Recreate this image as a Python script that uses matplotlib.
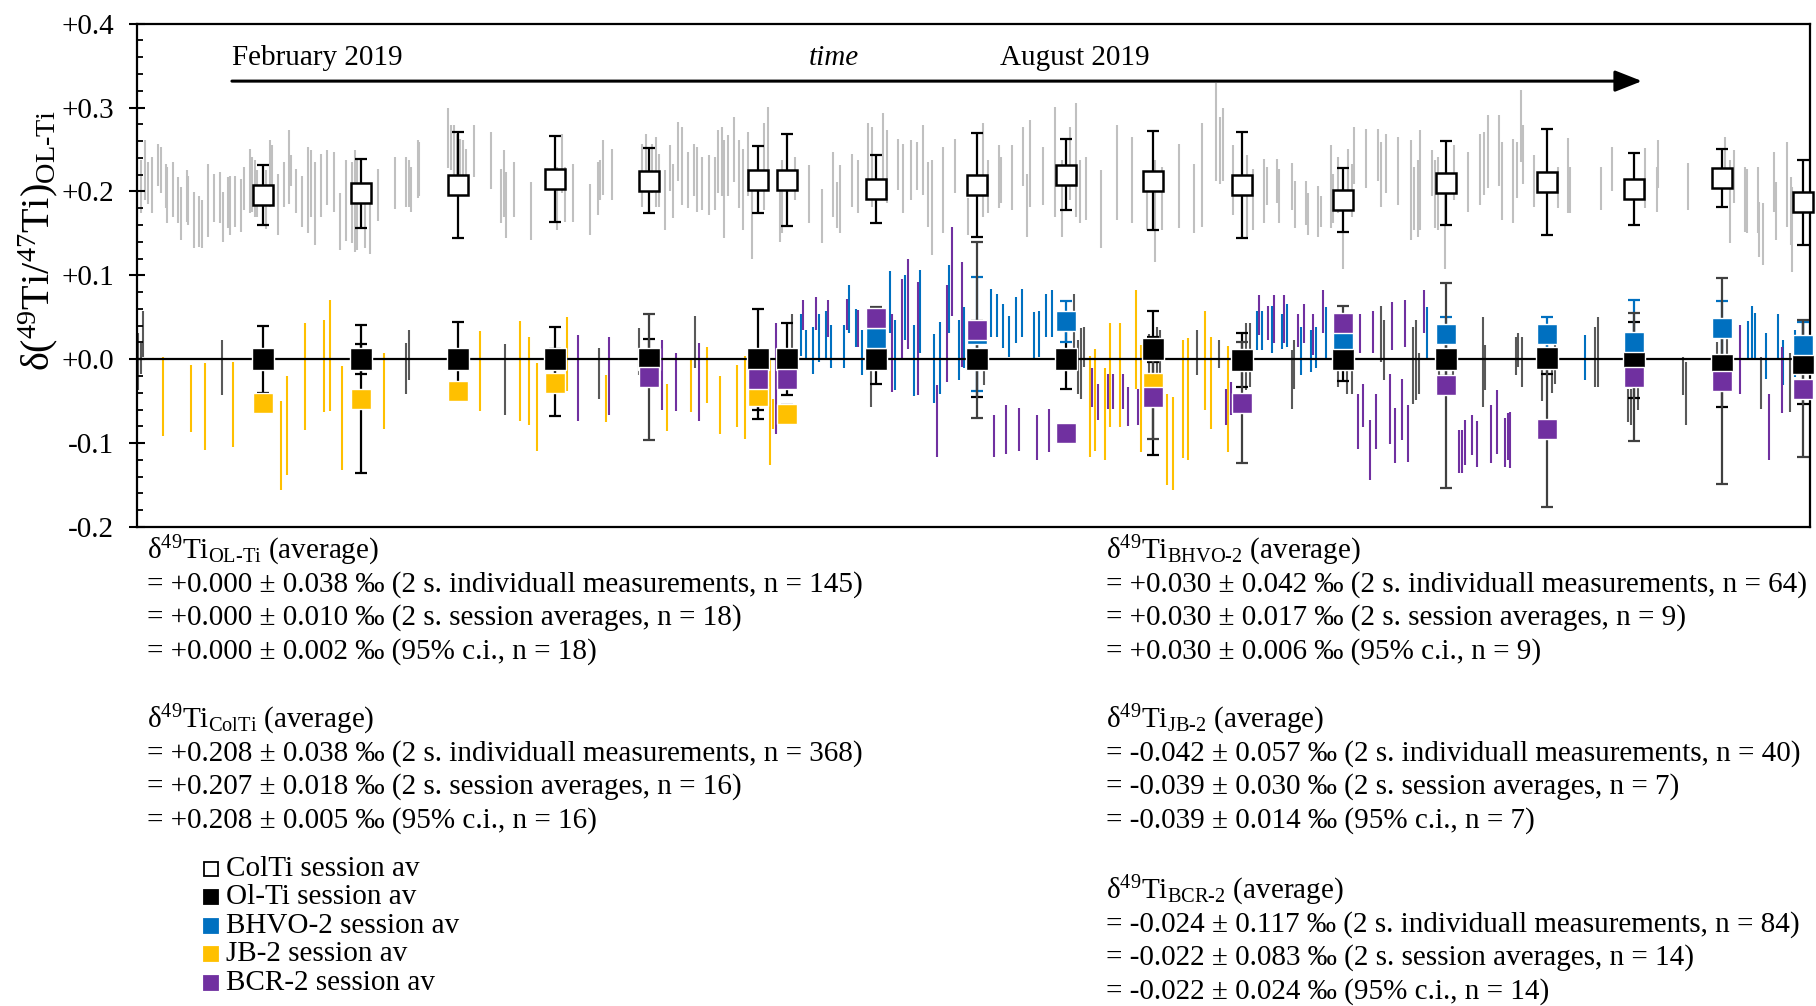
import matplotlib.pyplot as plt
from matplotlib.lines import Line2D

plt.rcParams['font.family'] = ['Liberation Serif', 'DejaVu Serif']
plt.rcParams['mathtext.fontset'] = 'custom'
plt.rcParams['mathtext.rm'] = 'Liberation Serif'
plt.rcParams['mathtext.it'] = 'Liberation Serif:italic'
plt.rcParams['mathtext.bf'] = 'Liberation Serif:bold'

# run position (time axis, arbitrary units) of each measurement session
session_x = [126, 224, 321, 418, 512, 621, 650, 739, 840, 929, 1016, 1105, 1206, 1309, 1410, 1497, 1585, 1666]
colti_avg = [.196, .198, .208, .215, .213, .214, .214, .203, .208, .220, .213, .208, .190, .210, .211, .203, .216, .187]
colti_err = [.036, .041, .063, .051, .039, .040, .055, .041, .062, .042, .059, .063, .038, .050, .063, .043, .035, .051]
olti_avg = [0, 0, 0, 0, 0, 0, 0, 0, 0, 0, .012, -.001, 0, 0, .002, -.001, -.007, -.004]
olti_err = [.040, .018, .044, .039, .024, .060, .043, .030, .045, .035, .015, .032, .026, .020, .020, .045, .050, .049]

bhvo_x = [739, 840, 929, 1206, 1309, 1410, 1497, 1585, 1666]
bhvo_avg = [.025, .030, .045, .024, .030, .030, .020, .037, .017]
bhvo_err = [.010, .068, .025, .020, .020, .020, .051, .033, .027]

jb_x = [126, 224, 321, 418, 621, 650, 1016]
jb_avg = [-.052, -.047, -.038, -.028, -.044, -.065, -.028]
jb_err = [.011, .088, .010, .040, .027, .010, .086]

bcr_x = [512, 621, 650, 739, 840, 929, 1016, 1105, 1206, 1309, 1410, 1497, 1585, 1666]
bcr_avg = [-.021, -.024, -.023, .049, .035, -.088, -.045, -.052, .043, -.031, -.083, -.021, -.026, -.035]
bcr_err = [.075, .010, .010, .013, .105, .010, .050, .072, .021, .122, .093, .076, .123, .082]

# individual measurements: (run, lower 2s bound, upper 2s bound)
colti_runs = [
    (0, .170, .229), (4, .174, .237), (8, .190, .261), (11, .185, .235), (15, .174, .241), (21, .206, .257),
    (24, .198, .253), (29, .180, .233), (30, .162, .229), (36, .169, .235), (41, .162, .217), (44, .142, .205),
    (50, .164, .225), (51, .160, .219), (57, .132, .199), (62, .134, .194), (65, .132, .190), (71, .146, .233),
    (77, .164, .221), (83, .162, .223), (86, .140, .199), (91, .156, .217), (93, .148, .219), (98, .158, .219),
    (104, .152, .215), (107, .178, .229), (113, .174, .251), (115, .176, .241), (118, .170, .237), (120, .170, .225),
    (129, .155, .225), (133, .182, .261), (135, .205, .255), (141, .148, .221), (147, .182, .235), (152, .185, .273),
    (154, .207, .243), (159, .174, .227), (165, .158, .219), (171, .151, .253), (174, .170, .249), (178, .136, .235),
    (184, .170, .245), (190, .184, .249), (197, .176, .247), (203, .130, .198), (209, .141, .237), (215, .139, .235),
    (218, .128, .249), (220, .130, .237), (228, .132, .193), (233, .126, .205), (241, .165, .227), (258, .179, .241),
    (269, .181, .241), (272, .181, .237), (274, .175, .229), (281, .192, .261),
    (282, .194, .259), (311, .228, .299), (314, .225, .279), (317, .211, .279), (320, .205, .269), (323, .215, .263),
    (326, .209, .261), (329, .201, .251), (337, .217, .279), (354, .203, .271), (364, .162, .227), (367, .170, .249),
    (369, .144, .223), (377, .170, .235), (394, .142, .211), (420, .154, .229), (425, .198, .269), (428, .164, .229),
    (436, .164, .233), (453, .148, .209), (461, .172, .235), (463, .190, .237), (466, .196, .261), (475, .190, .251),
    (505, .182, .257), (509, .203, .269), (515, .198, .257), (519, .182, .265), (522, .182, .245), (528, .154, .225),
    (533, .200, .255), (536, .168, .233), (541, .213, .283), (545, .184, .277), (551, .180, .247), (557, .194, .257),
    (560, .176, .253), (565, .178, .241), (572, .172, .244), (578, .178, .241), (581, .198, .273), (585, .194, .277),
    (587, .144, .261), (591, .194, .267), (597, .211, .289), (602, .180, .261), (606, .154, .251), (611, .194, .271),
    (615, .120, .211), (627, .178, .281), (631, .202, .301), (643, .140, .205), (645, .150, .237), (658, .190, .241),
    (672, .162, .231), (685, .138, .203), (696, .170, .247), (700, .156, .211), (703, .150, .231), (715, .182, .245),
    (721, .174, .237), (731, .202, .281), (735, .182, .277), (746, .198, .293), (750, .186, .273), (761, .202, .263),
    (766, .174, .257), (774, .190, .261), (780, .202, .259), (786, .196, .279), (791, .158, .235), (795, .124, .237),
    (806, .150, .253), (818, .198, .263), (831, .148, .192),
    (846, .170, .281), (851, .174, .237), (862, .180, .255), (864, .186, .241), (875, .178, .255), (886, .206, .277),
    (890, .146, .221), (893, .182, .285), (906, .184, .253), (918, .170, .301), (925, .146, .237), (933, .190, .277),
    (939, .170, .305), (943, .162, .237), (949, .166, .241), (964, .132, .225), (980, .166, .279), (995, .162, .265),
    (1010, .154, .213), (1018, .116, .237), (1025, .154, .229), (1042, .156, .257), (1057, .150, .233), (1065, .158, .281),
    (1079, .213, .329), (1083, .209, .289), (1086, .213, .299), (1096, .172, .255), (1110, .146, .243), (1116, .154, .227),
    (1127, .162, .239), (1130, .184, .229), (1140, .186, .239), (1142, .162, .227), (1155, .178, .234), (1158, .156, .213),
    (1169, .160, .213), (1171, .148, .198), (1181, .146, .207), (1184, .158, .194), (1194, .156, .255), (1196, .162, .221),
    (1201, .174, .241), (1206, .108, .190), (1211, .186, .251), (1215, .170, .233), (1217, .209, .277), (1229, .204, .275),
    (1241, .213, .275), (1244, .182, .259), (1249, .198, .269), (1261, .184, .265), (1274, .142, .261), (1277, .154, .229),
    (1281, .146, .237), (1283, .154, .273), (1295, .194, .249), (1298, .156, .237), (1301, .154, .241), (1308, .108, .198),
    (1317, .190, .255), (1331, .176, .247), (1343, .184, .269), (1347, .196, .271), (1351, .204, .291), (1362, .206, .291),
    (1365, .166, .259), (1376, .162, .263), (1380, .192, .259), (1384, .235, .321), (1386, .209, .279), (1397, .182, .243),
    (1421, .180, .229), (1431, .174, .264), (1433, .174, .229), (1464, .178, .229), (1475, .200, .253), (1508, .180, .252),
    (1520, .176, .229), (1521, .204, .261), (1551, .178, .234), (1588, .206, .265), (1593, .138, .237), (1597, .186, .249),
    (1608, .152, .229), (1610, .150, .227), (1621, .150, .229), (1622, .122, .188), (1626, .112, .186), (1637, .176, .247),
    (1639, .142, .211), (1650, .158, .259), (1654, .136, .217), (1655, .104, .205),
]

olti_runs = [
    (1, -.037, .031), (4, -.017, .019), (6, .003, .058), (85, -.043, .023), (269, -.041, .019), (272, -.025, .035),
    (368, -.067, .018), (462, -.047, .013), (502, -.019, .037), (558, -.011, .052), (655, -.001, .054), (734, -.057, -.001),
    (847, -.031, -.005), (937, .011, .078), (941, -.041, .023), (944, -.047, .037), (947, -.009, .039), (1012, -.020, .030),
    (1020, -.021, .039), (1023, -.021, .035), (1060, -.019, .035), (1082, -.011, .023), (1109, -.037, .043), (1113, -.033, .043),
    (1155, -.059, .011), (1157, -.035, .023), (1201, -.033, .011), (1210, -.041, .011), (1215, -.041, .007), (1244, -.003, .064),
    (1247, -.025, .047), (1276, -.053, .039), (1279, -.049, .047), (1282, -.041, .007), (1302, -.019, .011), (1316, -.019, .011),
    (1346, -.057, .050), (1348, -.037, .017), (1379, -.019, .027), (1381, -.009, .031), (1385, -.033, .027), (1405, -.050, .010),
    (1415, -.040, .010), (1418, -.030, .020), (1458, -.033, .039), (1461, -.033, .050), (1491, -.075, -.035), (1494, -.078, -.035),
    (1501, -.060, .020), (1546, -.043, .003), (1549, -.078, -.003), (1580, -.020, .020), (1590, -.025, .025), (1624, -.059, .003),
    (1653, -.063, .007),
]

bhvo_runs = [
    (664, .004, .054), (669, -.001, .035), (676, -.018, .039), (682, -.003, .054), (689, .001, .058), (694, -.011, .041),
    (707, -.011, .041), (712, .031, .089), (719, .015, .060), (725, -.019, .035), (753, .031, .105), (758, -.037, .047),
    (768, .023, .100), (777, -.044, .041), (783, .007, .106), (797, -.052, .030), (803, -.042, .044), (812, .031, .112),
    (822, -.025, .047), (827, -.011, .062), (854, .027, .084), (860, .027, .078), (866, .013, .066), (872, .003, .051),
    (879, .019, .074), (885, .027, .084), (897, .002, .056), (902, .003, .058), (909, .027, .078), (915, .027, .082),
    (1120, .011, .058), (1125, .011, .058), (1135, .007, .063), (1145, .012, .054), (1150, .015, .066), (1164, -.019, .039),
    (1174, -.015, .035), (1179, -.011, .038), (1189, -.001, .062), (1290, -.001, .062), (1448, -.025, .029), (1611, -.001, .045),
    (1615, -.001, .063), (1618, -.001, .055), (1629, -.023, .031), (1641, -.001, .054), (1646, -.031, .023), (1658, -.021, .035),
]

jb_runs = [
    (26, -.091, .003), (54, -.087, -.007), (68, -.108, -.005), (96, -.105, -.003), (144, -.156, -.050), (150, -.138, -.020),
    (168, -.084, .043), (187, -.063, .047), (193, -.062, .071), (205, -.132, -.008), (247, -.083, .007), (343, -.062, .034),
    (383, -.074, .045), (392, -.078, .027), (400, -.109, -.005), (430, -.038, .050), (469, -.075, -.019), (530, -.085, -.029),
    (554, -.063, .001), (570, -.052, .015), (583, -.089, -.020), (600, -.081, -.007), (608, -.095, .004), (633, -.126, -.001),
    (636, -.083, -.047), (953, -.117, .004), (958, -.109, .012), (968, -.120, -.011), (973, -.081, .043), (983, -.081, .043),
    (999, -.035, .082), (1004, -.111, .017), (1030, -.150, -.041), (1036, -.156, -.045), (1046, -.118, .023), (1051, -.120, .025),
    (1068, -.060, .058), (1074, -.083, .027), (1091, -.111, .016),
]

bcr_runs = [
    (441, -.074, .029), (472, -.066, .027), (525, -.061, .023), (539, -.062, .007), (562, -.074, .019), (639, -.089, .043),
    (666, .035, .071), (679, .035, .074), (691, .027, .071), (710, .035, .072), (721, .014, .059), (755, -.039, .054),
    (765, -.001, .096), (771, .012, .119), (781, -.043, .092), (800, -.117, -.031), (810, -.027, .088), (815, .052, .158),
    (825, -.009, .116), (857, -.116, -.066), (869, -.113, -.055), (882, -.109, -.058), (900, -.120, -.066), (912, -.111, -.059),
    (955, -.057, -.011), (961, -.073, -.029), (971, -.059, -.017), (976, -.059, -.017), (986, -.059, -.017), (991, -.080, -.033),
    (1001, -.078, -.035), (1089, -.078, -.035), (1094, -.067, -.027), (1122, .029, .076), (1131, .023, .063), (1137, .019, .076),
    (1147, .019, .076), (1161, .015, .054), (1167, .019, .066), (1176, .005, .054), (1186, .031, .083), (1221, -.107, -.042),
    (1223, .008, .054), (1226, -.081, -.029), (1233, -.144, -.073), (1236, .008, .058), (1239, -.107, -.042), (1253, -.101, -.017),
    (1255, .011, .068), (1258, -.124, -.058), (1265, -.096, -.024), (1268, .014, .071), (1271, -.122, -.055), (1287, .031, .082),
    (1322, -.136, -.084), (1325, -.136, -.084), (1328, -.126, -.072), (1335, -.114, -.067), (1340, -.129, -.074), (1354, -.124, -.054),
    (1360, -.113, -.037), (1368, -.129, -.070), (1371, -.120, -.064), (1373, -.130, -.063), (1402, -.093, -.074), (1603, -.041, .041),
    (1632, -.120, -.041), (1645, -.064, .015),
]

# summary statistics printed below the chart
sum_names = ['OL-Ti', 'ColTi', 'BHVO-2', 'JB-2', 'BCR-2']
mean_ind = [0.000, 0.208, 0.030, -0.042, -0.024]
s2_ind = [0.038, 0.038, 0.042, 0.057, 0.117]
n_ind = [145, 368, 64, 40, 84]
mean_sess = [0.000, 0.207, 0.030, -0.039, -0.022]
s2_sess = [0.010, 0.018, 0.017, 0.030, 0.083]
n_sess = [18, 16, 9, 7, 14]
mean_ci = [0.000, 0.208, 0.030, -0.039, -0.022]
ci95 = [0.002, 0.005, 0.006, 0.014, 0.024]

yticks = [-0.2, -0.1, 0.0, 0.1, 0.2, 0.3, 0.4]
ytick_labels = ['-0.2', '-0.1', '+0.0', '+0.1', '+0.2', '+0.3', '+0.4']

BLUE = '#0070C0'
GOLD = '#FFC000'
PURPLE = '#7030A0'
LIGHT = '#C0C0C0'
DARK = '#595959'

fig = plt.figure(figsize=(18.16, 10.06), dpi=100)
ax = fig.add_axes([0.0754, 0.4761, 0.9213, 0.5004])
ax.set_xlim(0, 1673)
ax.set_ylim(-0.2, 0.4)


def draw_runs(runs, color, z):
    xs, lo, hi = zip(*runs)
    ax.vlines(xs, lo, hi, colors=color, lw=1.5, zorder=z)


draw_runs(colti_runs, LIGHT, 1)
draw_runs(olti_runs, DARK, 1.5)
draw_runs(bhvo_runs, BLUE, 1.5)
draw_runs(jb_runs, GOLD, 1.5)
draw_runs(bcr_runs, PURPLE, 1.5)

ax.axhline(0, color='black', lw=1.6, zorder=2)

ebar = dict(fmt='none', elinewidth=1.6, capsize=4.5, capthick=1.6, zorder=3)
ax.errorbar(session_x, colti_avg, yerr=colti_err, ecolor='black', **ebar)
ax.errorbar(session_x, olti_avg, yerr=olti_err, ecolor='black', **ebar)
ax.errorbar(bhvo_x, bhvo_avg, yerr=bhvo_err, ecolor=BLUE, **ebar)
ax.errorbar(jb_x, jb_avg, yerr=jb_err, ecolor='black', **ebar)
ax.errorbar(bcr_x, bcr_avg, yerr=bcr_err, ecolor='#404040', **ebar)

mk = dict(ls='none', marker='s', zorder=4, clip_on=False)
ax.plot(session_x, colti_avg, ms=15, mfc='white', mec='black', mew=1.8, **mk)
ax.plot(session_x, olti_avg, ms=15.5, mfc='black', mec='white', mew=1, **mk)
ax.plot(bhvo_x, bhvo_avg, ms=15, mfc=BLUE, mec='white', mew=1, **mk)
ax.plot(jb_x, jb_avg, ms=14, mfc=GOLD, mec='white', mew=1, **mk)
ax.plot(bcr_x, bcr_avg, ms=14, mfc=PURPLE, mec='white', mew=1, **mk)

# time arrow
ax.annotate('', xy=(1505, 0.3315), xytext=(95, 0.3315),
            arrowprops=dict(arrowstyle='-|>,head_length=0.66,head_width=0.26', lw=2.2,
                            color='black', shrinkA=0, shrinkB=0, mutation_scale=25))
ax.text(95, 0.359, 'February 2019', ha='left', va='center', fontsize=21)
ax.text(697, 0.359, 'time', ha='center', va='center', fontsize=21, style='italic')
ax.text(938, 0.359, 'August 2019', ha='center', va='center', fontsize=21)

ax.set_yticks(yticks)
ax.set_yticklabels(ytick_labels)
ax.set_yticks([v / 100 for v in range(-20, 41, 2)], minor=True)
ax.set_xticks([])
ax.tick_params(axis='y', which='major', direction='inout', length=11, width=1.5, labelsize=21, pad=11)
ax.tick_params(axis='y', which='minor', direction='in', length=4.5, width=1.3)
for sp in ax.spines.values():
    sp.set_linewidth(1.6)
    sp.set_color('black')

fig.text(0.021, 0.7614, 'δ($^{49}$Ti/$^{47}$Ti)$_{\\text{OL-Ti}}$', rotation=90,
         ha='center', va='center', fontsize=29)

# statistics text blocks
line_step = 33.5 / 1006
block_pos = [(147 / 1816, 1 - 551 / 1006), (147 / 1816, 1 - 720 / 1006),
             (1106 / 1816, 1 - 551 / 1006), (1106 / 1816, 1 - 720 / 1006),
             (1106 / 1816, 1 - 890.6 / 1006)]
for i, name in enumerate(sum_names):
    bx, by = block_pos[i]
    lines = [
        'δ$^{49}$Ti$_{\\text{' + name + '}}$ (average)',
        f'= {mean_ind[i]:+.3f} ± {s2_ind[i]:.3f} ‰ (2 s. individuall measurements, n = {n_ind[i]})',
        f'= {mean_sess[i]:+.3f} ± {s2_sess[i]:.3f} ‰ (2 s. session averages, n = {n_sess[i]})',
        f'= {mean_ci[i]:+.3f} ± {ci95[i]:.3f} ‰ (95% c.i., n = {n_sess[i]})',
    ]
    for k, t in enumerate(lines):
        fig.text(bx, by - k * line_step, t, ha='left', va='center', fontsize=21)

# legend
legend_items = [('ColTi session av', 'white', 'black'), ('Ol-Ti session av', 'black', 'black'),
                ('BHVO-2 session av', BLUE, BLUE), ('JB-2 session av', GOLD, GOLD),
                ('BCR-2 session av', PURPLE, PURPLE)]
for k, (lab, fc, ec) in enumerate(legend_items):
    ly = 1 - (868.6 + k * 28.6) / 1006
    fig.add_artist(Line2D([211 / 1816], [ly], marker='s', ms=10, mfc=fc, mec=ec, mew=1.3,
                          transform=fig.transFigure))
    fig.text(226 / 1816, ly, lab, ha='left', va='center', fontsize=21)

fig.savefig('out.png', dpi=100)
